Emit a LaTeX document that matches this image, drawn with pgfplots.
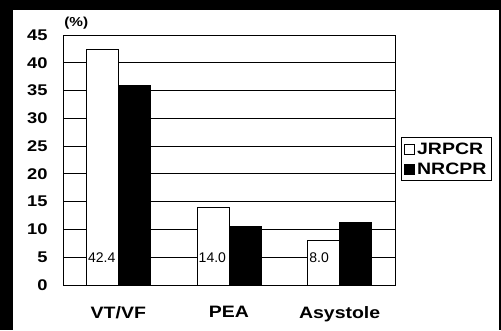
\documentclass[border=0pt]{standalone}
\usepackage{fontspec}
\setmainfont{Liberation Sans}
\newfontfamily\widefont[FakeStretch=1.18]{Liberation Sans}
\usepackage{pgfplots}
\usepackage{pgfplotstable}
\pgfplotsset{compat=1.18}

% Share of initial rhythms (%) in two registries
\pgfplotstableread{
cat      jr    nr
VT/VF    42.4  36.0
PEA      14.0  10.6
Asystole 8.0   11.2
}\rhythms

\begin{document}
\begin{tikzpicture}[x=1pt,y=1pt]
  % page frame
  \fill[black] (0,0) rectangle (501,330);
  \fill[white] (13,0) rectangle (499,320);
  \path[use as bounding box] (0,0) rectangle (501,330);
  \begin{axis}[
    at={(63pt,45pt)}, anchor=south west,
    scale only axis, width=332pt, height=250pt,
    xmin=-0.5, xmax=2.5, ymin=0, ymax=45,
    axis line style={black, line width=0.9pt},
    xtick={0,1,2},
    xticklabels={VT/VF, PEA, Asystole},
    major x tick style={draw=none},
    extra x ticks={0.5,1.5},
    extra x tick labels={},
    extra x tick style={major tick length=5pt, tick style={draw=black, line width=1pt}, tick pos=bottom, tick align=inside},
    ytick={0,5,...,45},
    ytick style={draw=none},
    ymajorgrids,
    grid style={black, line width=0.8pt},
    /pgf/number format/assume math mode=true,
    ticklabel style={font=\widefont\bfseries\fontsize{15.5}{16}\selectfont},
    yticklabel style={xshift=-12pt},
    xticklabel style={font=\widefont\bfseries\fontsize{16.5}{17}\selectfont, yshift=-18pt},
    legend style={at={(1.292,0.592)}, anchor=north east,
      draw=black, line width=1.1pt, inner xsep=3pt, inner ysep=3pt,
      font=\widefont\bfseries\fontsize{16.5}{17}\selectfont,
      row sep=3pt},
    legend cell align=left,
    clip=false,
  ]
    \addplot[ybar, bar width=32pt, bar shift=-16pt, draw=black, line width=0.9pt, fill=white,
      legend image code/.code={\draw[black, line width=0.8pt, fill=white] (0pt,-5pt) rectangle (10pt,5pt);}]
      table[x expr=\coordindex, y=jr] {\rhythms};
    \addlegendentry{JRPCR}
    \addplot[ybar, bar width=32pt, bar shift=16pt, draw=black, line width=0.9pt, fill=black,
      legend image code/.code={\fill[black] (0pt,-5pt) rectangle (10pt,5pt);}]
      table[x expr=\coordindex, y=nr] {\rhythms};
    \addlegendentry{NRCPR}
    % values of the first series, written low inside its bars
    \addplot[draw=none, mark=none, forget plot,
      point meta=explicit,
      nodes near coords={\pgfmathprintnumber[fixed, fixed zerofill, precision=1]{\pgfplotspointmeta}},
      nodes near coords align={anchor=west},
      every node near coord/.append style={font=\fontsize{14}{14}\selectfont, inner sep=1.5pt}]
      table[x expr=\coordindex-0.289, y expr=5, meta=jr] {\rhythms};
    \node[font=\widefont\bfseries\fontsize{13}{13}\selectfont] at (rel axis cs:0.04,1.048) {(\%)};
  \end{axis}
\end{tikzpicture}
\end{document}
